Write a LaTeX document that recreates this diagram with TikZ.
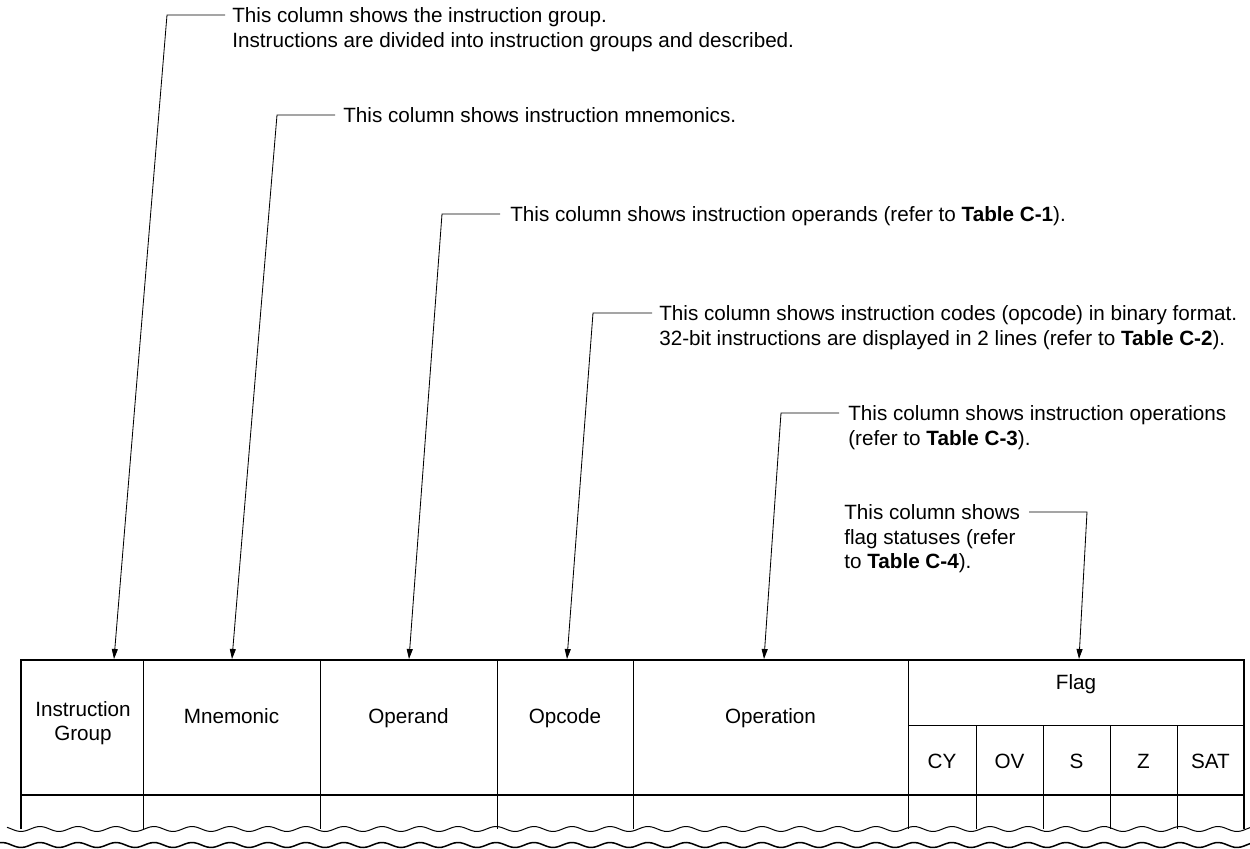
\documentclass[tikz,border=0pt]{standalone}
\usepackage{fontspec}
\setmainfont{Liberation Sans}
\usetikzlibrary{arrows.meta}
\begin{document}
\begin{tikzpicture}[x=0.6pt,y=-0.6pt,
  every node/.style={inner sep=0pt, font=\fontsize{12.4}{14.6}\selectfont},
  note/.style={anchor=north west, align=left},
  hdr/.style={anchor=base},
  hdrml/.style={anchor=north, align=center},
  borderline/.style={line width=1.2pt},
  rule/.style={line width=0.6pt},
  leader/.style={line width=0.5pt, -{Triangle[length=6pt,width=3.6pt]}},
  wave/.style={line width=0.6pt},
  wavebold/.style={line width=0.9pt}]
\useasboundingbox (0,0) rectangle (1250,849);

% annotation texts
\node[note] (n1) at (232,7.5) {This column shows the instruction group.\\Instructions are divided into instruction groups and described.};
\node[note] (n2) at (343,107.5) {This column shows instruction mnemonics.};
\node[note] (n3) at (510,206.5) {This column shows instruction operands (refer to \textbf{Table C-1}).};
\node[note] (n4) at (659,305.5) {This column shows instruction codes (opcode) in binary format.\\32-bit instructions are displayed in 2 lines (refer to \textbf{Table C-2}).};
\node[note] (n5) at (848,405.5) {This column shows instruction operations\\(refer to \textbf{Table C-3}).};
\node[note] (n6) at (844,504.5) {This column shows\\flag statuses (refer\\to \textbf{Table C-4}).};

% leader coordinates
\coordinate (b1s) at (225,15);  \coordinate (b1c) at (167,15);  \coordinate (a1) at (114,659);
\coordinate (b2s) at (335,115); \coordinate (b2c) at (277,115); \coordinate (a2) at (232,659);
\coordinate (b3s) at (500,214); \coordinate (b3c) at (442,214); \coordinate (a3) at (409,659);
\coordinate (b4s) at (652,313); \coordinate (b4c) at (593,313); \coordinate (a4) at (567,659);
\coordinate (b5s) at (839,413); \coordinate (b5c) at (781,413); \coordinate (a5) at (764,659);
\coordinate (b6s) at (1029,512); \coordinate (b6c) at (1087,512); \coordinate (a6) at (1079,659);

\draw[leader] (b1s) -- (b1c) -- (a1);
\draw[leader] (b2s) -- (b2c) -- (a2);
\draw[leader] (b3s) -- (b3c) -- (a3);
\draw[leader] (b4s) -- (b4c) -- (a4);
\draw[leader] (b5s) -- (b5c) -- (a5);
\draw[leader] (b6s) -- (b6c) -- (a6);

% table rules
\foreach \cx in {143,320,497,633,908} \draw[rule] (\cx,660) -- (\cx,829);
\foreach \cx in {976,1043,1110,1177} \draw[rule] (\cx,725) -- (\cx,829);
\draw[rule] (908,725) -- (1244,725);
\draw[borderline] (21,829) -- (21,660) -- (1244,660) -- (1244,829);
\draw[borderline] (21,795) -- (1244,795);

% broken-off edge
\draw[wave] plot[domain=7:1250,samples=400,smooth] (\x,{829+2.5*cos((\x-21)/38*360)});
\draw[wavebold] plot[domain=0:1250,samples=400,smooth] (\x,{845+2.5*cos((\x-21)/38*360)});

% header texts
\node[hdrml] (hgrp) at (83,701) {Instruction\\Group};
\node[hdr] (hmn) at (231.5,723) {Mnemonic};
\node[hdr] (hop) at (408.5,723) {Operand};
\node[hdr] (hoc) at (565,723) {Opcode};
\node[hdr] (hopn) at (770.5,723) {Operation};
\node[hdr] (hflag) at (1076,689) {Flag};
\node[hdr] (hcy) at (942,768) {CY};
\node[hdr] (hov) at (1009.5,768) {OV};
\node[hdr] (hs) at (1076.5,768) {S};
\node[hdr] (hz) at (1143.5,768) {Z};
\node[hdr] (hsat) at (1210.5,768) {SAT};
\end{tikzpicture}
\end{document}
